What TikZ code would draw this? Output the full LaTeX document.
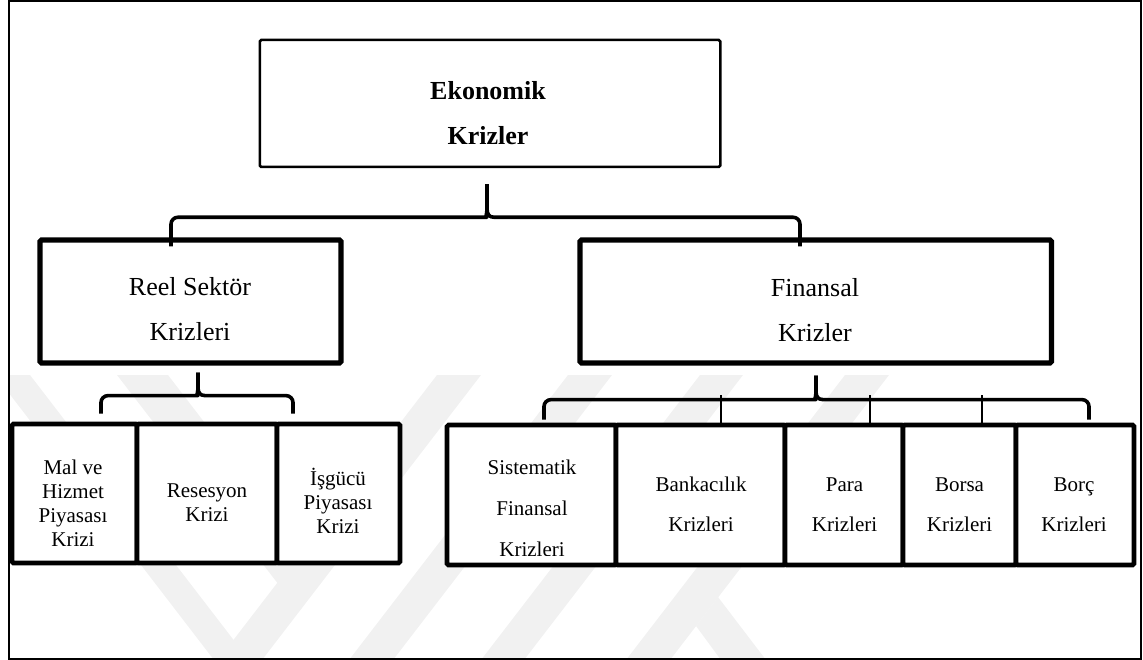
\documentclass[tikz,border=0pt]{standalone}
\usepackage{fontspec}
\setmainfont{Liberation Serif}
\usetikzlibrary{calc}
% struts that fix the top of the first line and the bottom of the last
\newcommand\tS{\rule{0pt}{0.8em}}
\newcommand\bS{\rule[-0.2em]{0pt}{0.2em}}
\definecolor{wmgray}{gray}{0.945}
\begin{document}
\begin{tikzpicture}[x=1pt,y=-1pt,
  box/.style={draw, fill=white, inner sep=0pt, rounded corners=1.5pt},
  bigbox/.style={box, line width=5.2pt, minimum height=123pt},
  subbox/.style={box, line width=4.6pt},
  txt/.style={inner sep=0pt, align=center},
  bigtxt/.style={txt, font=\fontsize{26}{45}\selectfont},
  smalltxt/.style={txt, font=\fontsize{21}{24}\selectfont},
  widetxt/.style={txt, font=\fontsize{21}{40}\selectfont},
  brace/.style={line width=3.6pt, line join=round},
  link/.style={line width=2.8pt}
]
\useasboundingbox (0,0) rectangle (1143,660);

% faint background stripes
\begin{scope}
  \clip (9.7,375) rectangle (1140.5,658.3);
  \fill[wmgray] (-5,375) -- (30,375) -- (249,660) -- (214,660) -- cycle;
  \fill[wmgray] (117,375) -- (168,375) -- (324,578) -- (299,611) -- cycle;
  \fill[wmgray] (437,375) -- (481,375) -- (262,660) -- (218,660) -- cycle;
  \fill[wmgray] (568,375) -- (612,375) -- (393,660) -- (349,660) -- cycle;
  \fill[wmgray] (700,375) -- (743,375) -- (524,660) -- (481,660) -- cycle;
  \fill[wmgray] (845,375) -- (889,375) -- (670,660) -- (626,660) -- cycle;
  \fill[wmgray] (718,597) -- (696,626) -- (721,660) -- (766,660) -- cycle;
\end{scope}

% outer frame
\draw[line width=1.7pt] (8.9,0.9) rectangle (1141.3,659.2);

% boxes
\node[box, line width=2.5pt, minimum width=460.5pt, minimum height=127pt] (eko) at (490,103.5) {};
\node[bigbox, minimum width=301pt] (reel) at (190.5,301.5) {};
\node[bigbox, minimum width=471.5pt] (fin) at (815.75,301.5) {};

\node[subbox, minimum width=125pt, minimum height=139pt] (mal) at (74.5,493.5) {};
\node[subbox, minimum width=140pt, minimum height=139pt] (res) at (207,493.5) {};
\node[subbox, minimum width=123pt, minimum height=139pt] (isg) at (338.5,493.5) {};

\node[subbox, minimum width=169pt, minimum height=140pt] (sis) at (531.5,495) {};
\node[subbox, minimum width=169pt, minimum height=140pt] (ban) at (700.5,495) {};
\node[subbox, minimum width=118pt, minimum height=140pt] (par) at (844,495) {};
\node[subbox, minimum width=113pt, minimum height=140pt] (bor) at (959.5,495) {};
\node[subbox, minimum width=118pt, minimum height=140pt] (brc) at (1075,495) {};

% labels
\node[bigtxt, font=\fontsize{26}{45}\selectfont\bfseries] (eko-t) at ($(eko)+(-2,11)$) {\tS Ekonomik\\Krizler\bS};
\node[bigtxt] (reel-t) at ($(reel)+(-0.5,9)$) {\tS Reel Sektör\\Krizleri\bS};
\node[bigtxt] (fin-t) at ($(fin)+(-0.75,9.5)$) {\tS Finansal\\Krizler\bS};

\node[smalltxt] (mal-t) at ($(mal)+(-1.5,10.5)$) {\tS Mal ve\\Hizmet\\Piyasası\\Krizi\bS};
\node[smalltxt] (res-t) at ($(res)+(0,10)$) {\tS Resesyon\\Krizi\bS};
\node[smalltxt] (isg-t) at ($(isg)+(-0.5,9)$) {\tS İşgücü\\Piyasası\\Krizi\bS};

% the last line of this label runs past the box and is cut off
\begin{scope}
  \clip ($(sis.north west)+(3,3)$) rectangle ($(sis.south east)+(-3,-12)$);
  \node[txt, font=\fontsize{21}{41}\selectfont] (sis-t) at ($(sis)+(0.5,14)$) {\tS Sistematik\\Finansal\\Krizleri\bS};
\end{scope}
\node[widetxt] (ban-t) at ($(ban)+(0.5,10)$) {\tS Bankacılık\\Krizleri\bS};
\node[widetxt] (par-t) at ($(par)+(0.5,10)$) {\tS Para\\Krizleri\bS};
\node[widetxt] (bor-t) at ($(bor)+(0,10)$) {\tS Borsa\\Krizleri\bS};
\node[widetxt] (brc-t) at ($(brc)+(-1,10)$) {\tS Borç\\Krizleri\bS};

% brace under the top box
\coordinate (t1) at ($(eko.south)+(-3,16)$);
\coordinate (l1) at ($(reel.north)+(-19.5,9)$);
\coordinate (r1) at ($(fin.north)+(-15.75,9)$);
\draw[brace] (l1) [rounded corners=7pt] |- ($(t1)+(-7,33)$) [sharp corners]
  .. controls +(5,0) and +(0,6) .. ($(t1)+(0,24)$) -- (t1);
\draw[brace] (t1) -- ($(t1)+(0,24)$) .. controls +(0,6) and +(-5,0) .. ($(t1)+(7,33)$)
  [rounded corners=7pt] -| (r1);

% brace under the real-sector box
\coordinate (t2) at ($(reel.south)+(7.5,7)$);
\coordinate (l2) at ($(mal.north)+(26.5,-8)$);
\coordinate (r2) at ($(isg.north)+(-45.5,-8)$);
\draw[brace] (l2) [rounded corners=7pt] |- ($(t2)+(-7,23)$) [sharp corners]
  .. controls +(5,0) and +(0,5) .. ($(t2)+(0,15)$) -- (t2);
\draw[brace] (t2) -- ($(t2)+(0,15)$) .. controls +(0,5) and +(-5,0) .. ($(t2)+(7,23)$)
  [rounded corners=7pt] -| (r2);

% brace under the financial box
\coordinate (t3) at ($(fin.south)+(0.25,10)$);
\coordinate (l3) at ($(sis.north)+(12.5,-3)$);
\coordinate (r3) at ($(brc.north)+(14,-3)$);
\draw[brace] (l3) [rounded corners=7pt] |- ($(t3)+(-7,24)$) [sharp corners]
  .. controls +(5,0) and +(0,5) .. ($(t3)+(0,16)$) -- (t3);
\draw[brace] (t3) -- ($(t3)+(0,16)$) .. controls +(0,5) and +(-5,0) .. ($(t3)+(7,24)$)
  [rounded corners=7pt] -| (r3);

% drops from the financial brace to the middle boxes
\draw[link] ($(ban.north)+(20.5,0)$) -- ($(ban.north)+(20.5,-28)$);
\draw[link] ($(par.north)+(26,0)$) -- ($(par.north)+(26,-28)$);
\draw[link] ($(bor.north)+(22.5,0)$) -- ($(bor.north)+(22.5,-28)$);
\end{tikzpicture}
\end{document}
